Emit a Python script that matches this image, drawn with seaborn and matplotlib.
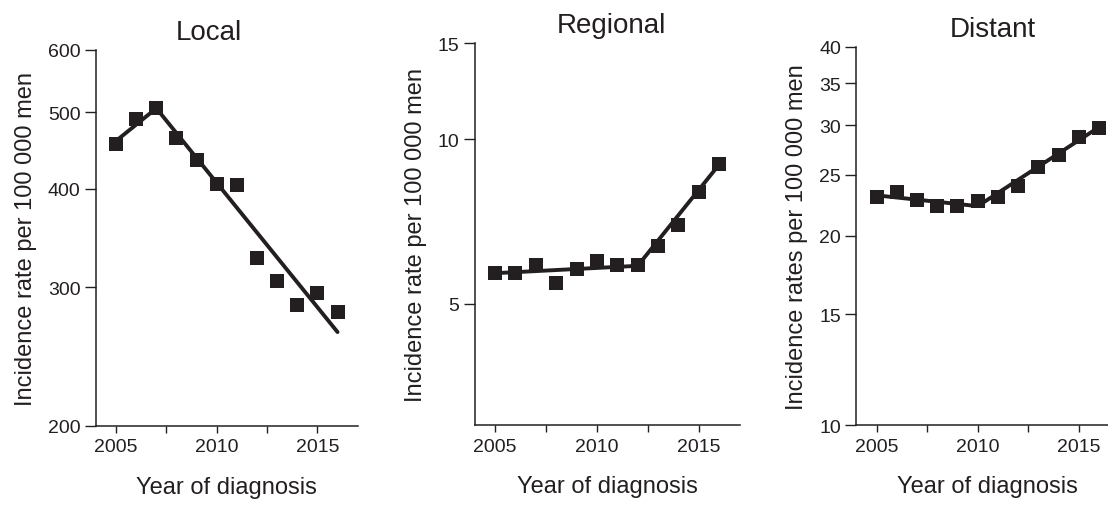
import numpy as np
import pandas as pd
import seaborn as sns
import matplotlib.pyplot as plt
from matplotlib.ticker import NullLocator

# ------------------------------------------------------------------
# Data
# ------------------------------------------------------------------
years = [2005, 2006, 2007, 2008, 2009, 2010, 2011, 2012, 2013, 2014, 2015, 2016]

local_obs = [456, 490, 506, 464, 435, 405, 404, 327, 305, 285, 295, 279]
local_fit_years = [2005, 2007, 2016]
local_fit = [460, 506, 263]

regional_obs = [5.69, 5.69, 5.89, 5.47, 5.80, 5.99, 5.89, 5.88, 6.38, 6.98, 8.00, 9.00]
regional_fit_years = [2005, 2012, 2016]
regional_fit = [5.69, 5.87, 9.0]

distant_obs = [23.06, 23.46, 22.84, 22.31, 22.31, 22.70, 23.06, 24.04, 25.71, 26.90, 28.76, 29.73]
distant_fit_years = [2005, 2010, 2016]
distant_fit = [23.2, 22.3, 29.8]

titles = ["Local", "Regional", "Distant"]
ylabels = ["Incidence rate per 100 000 men",
           "Incidence rate per 100 000 men",
           "Incidence rates per 100 000 men"]
yticks = [[200, 300, 400, 500, 600], [5, 10, 15], [10, 15, 20, 25, 30, 35, 40]]
ylims = [(200, 600), (3, 15), (10, 40)]
xticks = [2005, 2007.5, 2010, 2012.5, 2015]
xticklabels = ["2005", "", "2010", "", "2015"]

# ------------------------------------------------------------------
# Style
# ------------------------------------------------------------------
sns.set_style("ticks")
plt.rcParams['font.family'] = ['Liberation Sans', 'DejaVu Sans']
INK = "#231f20"

fig = plt.figure(figsize=(11.08, 5.10), dpi=100)
# axes rectangles in figure fractions
rects = [
    [0.0866, 0.1633, 0.2362, 0.7367],
    [0.4284, 0.1647, 0.2391, 0.7484],
    [0.7728, 0.1647, 0.2375, 0.7418],
]
title_x = [0.432, 0.515, 0.518]

panels = [
    (local_obs, local_fit_years, local_fit),
    (regional_obs, regional_fit_years, regional_fit),
    (distant_obs, distant_fit_years, distant_fit),
]

for i, (obs, fy, fv) in enumerate(panels):
    ax = fig.add_axes(rects[i])
    df_obs = pd.DataFrame({"year": years, "rate": obs})
    df_fit = pd.DataFrame({"year": fy, "rate": fv})

    sns.lineplot(data=df_fit, x="year", y="rate", ax=ax, color=INK, lw=2.8, zorder=2)
    sns.scatterplot(data=df_obs, x="year", y="rate", ax=ax, marker="s", s=110,
                    color=INK, edgecolor=INK, linewidth=0, zorder=3, clip_on=False)

    ax.set_yscale("log")
    ax.set_ylim(*ylims[i])
    ax.set_yticks(yticks[i])
    ax.set_yticklabels([str(t) for t in yticks[i]])
    ax.yaxis.set_minor_locator(NullLocator())
    ax.set_xlim(2004, 2017)
    ax.set_xticks(xticks)
    ax.set_xticklabels(xticklabels)

    ax.tick_params(axis="y", length=8, width=1, color=INK, labelsize=14,
                   labelcolor=INK, pad=3)
    ax.tick_params(axis="x", length=5, width=1, color=INK, labelsize=14,
                   labelcolor=INK, pad=4)
    for side in ["left", "bottom"]:
        ax.spines[side].set_color(INK)
        ax.spines[side].set_linewidth(1.1)
    sns.despine(ax=ax)

    ax.set_title(titles[i], fontsize=20, color=INK, x=title_x[i], pad=8)
    ax.set_xlabel("Year of diagnosis", fontsize=17, color=INK, labelpad=15)
    ax.set_ylabel(ylabels[i], fontsize=17, color=INK, labelpad=8)

plt.savefig("out.png", dpi=100)
plt.close()
